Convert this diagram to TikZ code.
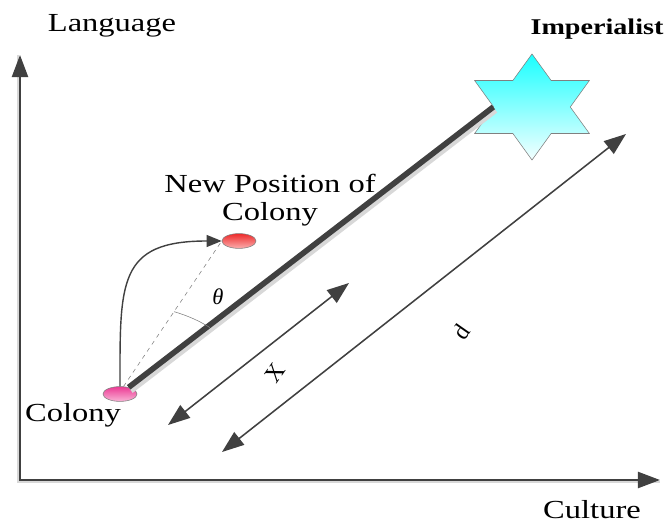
\documentclass[tikz,border=0pt]{standalone}
\usepackage{fontspec}
\setmainfont{Liberation Serif}
\usetikzlibrary{arrows.meta,shapes.geometric}

\definecolor{linegray}{HTML}{404040}
\definecolor{shadowgray}{HTML}{D8D8D8}
\definecolor{colonytop}{HTML}{EC3A94}
\definecolor{colonybot}{HTML}{F9B4D6}
\definecolor{newtop}{HTML}{EE2A2A}
\definecolor{newbot}{HTML}{FBB0B0}

\begin{document}
\begin{tikzpicture}[x=0.025cm,y=0.025cm,
  >={Triangle[length=0.55cm,width=0.4cm]},
  axis/.style={linegray,line width=1.6pt},
  dim/.style={linegray,line width=1.1pt},
  lbl/.style={font=\fontsize{18.5}{20}\selectfont,inner sep=0pt,xscale=1.25},
  country/.style={ellipse,draw=gray,inner sep=0pt,minimum width=0.85cm,minimum height=0.37cm}]
 \useasboundingbox (0,0) rectangle (666,528);
 % axes
 \coordinate (ytip) at (20,473);
 \coordinate (xtip) at (660,48);
 \draw[shadowgray,line width=1.6pt] (18,473) |- (660,46);
 \draw[axis,<->] (ytip) |- (xtip);
 \node[lbl,anchor=base] (lang) at (112,496) {Language};
 \node[lbl,anchor=base] (cult) at (592,10) {Culture};
 % imperialist and colonies
 \node[star,star points=6,star point ratio=1.732,minimum size=2.65cm,inner sep=0pt,
   xscale=1.25,draw=gray,top color=cyan!90,bottom color=cyan!4] (imp) at (532,421) {};
 \node[lbl,font=\bfseries\fontsize{16}{17}\selectfont,anchor=base] (implbl) at (597,493) {Imperialist};
 \node[country,top color=colonytop,bottom color=colonybot] (colony) at (120,134) {};
 \node[country,top color=newtop,bottom color=newbot] (newpos) at (239,287) {};
 \draw[shadowgray,line width=4.5pt] ([shift={(2,-3)}]colony.37) -- ([shift={(2,-3)}]imp.west);
 \draw[linegray,line width=4pt] (colony) -- (imp.west);
 \draw[gray,dashed,thin] (colony.65) -- (newpos.west);
 \draw[linegray,line width=1pt,-{Triangle[length=0.38cm,width=0.3cm]}]
   (colony.north) to[out=90,in=180,looseness=1.5] (newpos.west);
 \coordinate (vtx) at (126,139);
 \draw[gray,thin] ([shift={(47:123 and 84)}]vtx) arc[start angle=47,end angle=67,x radius=123,y radius=84];
 \node[font=\fontsize{16}{17}\selectfont\itshape] (theta) at (218,231) {θ};
 \node[lbl,align=center,anchor=north] (newlbl) at (270,354) {New Position of\\Colony};
 \node[lbl,anchor=base] (collbl) at (73,107) {Colony};
 % distances
 \coordinate (xa) at (168,103);
 \coordinate (xb) at (349,245);
 \coordinate (da) at (222,76);
 \coordinate (db) at (626,394);
 \draw[dim,<->] (xa) -- (xb);
 \draw[dim,<->] (da) -- (db);
 \node[font=\fontsize{17}{18}\selectfont,rotate=55] (xlbl) at (275,155) {X};
 \node[font=\fontsize{17}{18}\selectfont,rotate=55] (dlbl) at (461,196) {d};
\end{tikzpicture}
\end{document}
